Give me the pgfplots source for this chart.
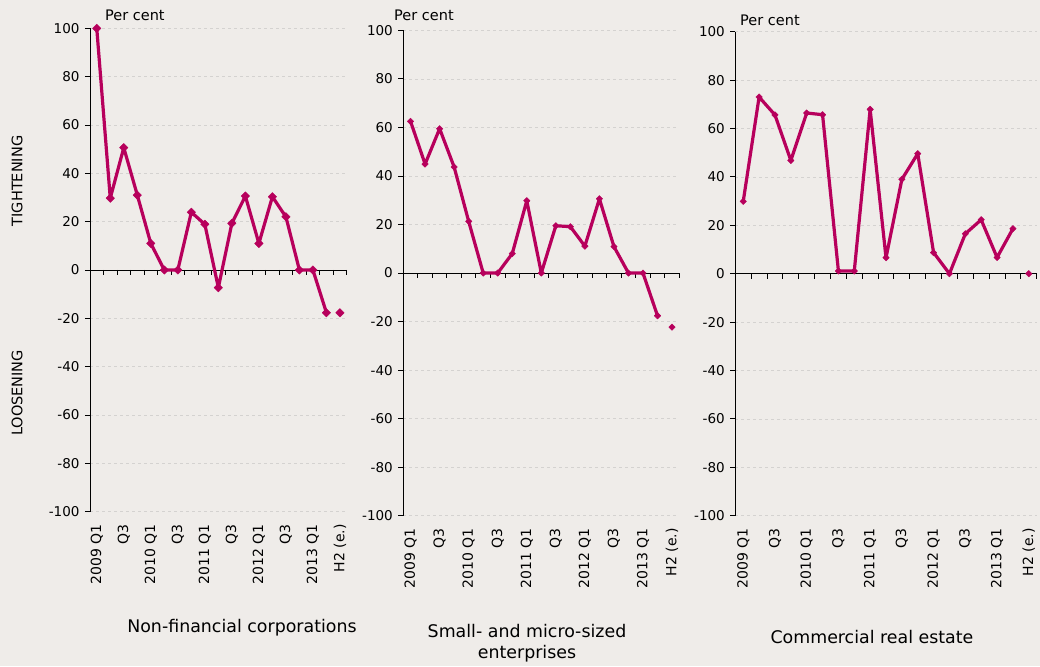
\documentclass[border=0pt]{standalone}
\usepackage{pgfplots}
\pgfplotsset{compat=1.18}
\usepackage{fontspec}
\setmainfont{DejaVu Sans}
\definecolor{bg}{RGB}{239,236,233}
\definecolor{serie}{RGB}{183,0,92}
\definecolor{gridc}{RGB}{212,210,208}
\pgfplotsset{
  panel/.style={
    scale only axis, anchor=south west,
    xmin=-0.5, xmax=18.5, ymin=-100, ymax=100,
    axis y line=left, axis x line=bottom,
    x axis line style={draw=none},
    y axis line style={-, black, line width=0.9pt},
    ytick={-100,-80,...,100},
    ytick style={black, line width=0.9pt},
    tick align=outside, major tick length=5pt,
    ymajorgrids, grid style={dashed, gridc, line width=0.7pt},
    xtick={0,2,...,18},
    xticklabels={2009 Q1,Q3,2010 Q1,Q3,2011 Q1,Q3,2012 Q1,Q3,2013 Q1,H2 (e.)},
    xtick style={draw=none},
    xticklabel shift={4pt},
    xticklabel style={rotate=90, anchor=east, font=\fontsize{14}{16}\selectfont},
    yticklabel style={font=\fontsize{13.5}{15}\selectfont, xshift=-2pt},
    /pgf/number format/assume math mode=true,
    unbounded coords=jump,
    clip=false,
  },
  ser/.style={serie, line width=3.2pt, line join=round, mark=square*, mark options={solid, rotate=45, fill=serie, draw=serie, line width=0.4pt}},
}
\newcommand{\zeroline}{%
  \draw[black, line width=0.9pt] (axis cs:-0.5,0) -- (axis cs:18.5,0);
  \pgfplotsinvokeforeach{0.5,1.5,...,18.5}{\draw[black, line width=0.9pt] (axis cs:##1,0) -- ++(0pt,-5pt);}
}
\begin{document}
\begin{tikzpicture}
\fill[bg] (0,0) rectangle (1040pt,666pt);
% Panel 1
\begin{axis}[panel, at={(90pt,154.3pt)}, width=256.7pt, height=483.4pt]
\zeroline
\addplot[ser, mark size=3pt] coordinates {
(0,100) (1,29.7) (2,50.6) (3,31) (4,11) (5,0) (6,0) (7,23.9) (8,18.9) (9,-7.3)
(10,19.3) (11,30.6) (12,11) (13,30.3) (14,22) (15,0) (16,0) (17,-17.7) (17.5,nan) (18,-17.7)};
\end{axis}
% Panel 2
\begin{axis}[panel, at={(403.3pt,150.3pt)}, width=276pt, height=485.3pt]
\zeroline
\addplot[ser, mark size=2.3pt] coordinates {
(0,62.5) (1,44.9) (2,59.5) (3,43.7) (4,21.3) (5,0) (6,0) (7,8) (8,29.8) (9,0)
(10,19.5) (11,19.1) (12,11.1) (13,30.6) (14,10.9) (15,0) (16,0) (17,-17.6) (17.5,nan) (18,-22.3)};
\end{axis}
% Panel 3
\begin{axis}[panel, at={(735.3pt,150.3pt)}, width=301.4pt, height=484pt]
\zeroline
\addplot[ser, mark size=2.3pt] coordinates {
(0,29.9) (1,73) (2,65.6) (3,46.8) (4,66.4) (5,65.7) (6,1.1) (7,1.1) (8,67.9) (9,6.6)
(10,39) (11,49.6) (12,8.7) (13,0) (14,16.5) (15,22.3) (16,6.7) (17,18.6) (17.5,nan) (18,0)};
\end{axis}
\begin{scope}[font=\fontsize{14.5}{17}\selectfont]
\node[anchor=west, inner sep=0pt] at (105pt,651pt) {Per cent};
\node[anchor=west, inner sep=0pt] at (394pt,651pt) {Per cent};
\node[anchor=west, inner sep=0pt] at (740pt,646pt) {Per cent};
\node[rotate=90] at (17pt,485pt) {TIGHTENING};
\node[rotate=90] at (17pt,273pt) {LOOSENING};
\end{scope}
\begin{scope}[font=\fontsize{17.4}{21}\selectfont]
\node at (242pt,38pt) {Non-financial corporations};
\node[align=center] at (527pt,23pt) {Small- and micro-sized\\enterprises};
\node at (872pt,29pt) {Commercial real estate};
\end{scope}
\pgfresetboundingbox
\useasboundingbox (0,0) rectangle (1040pt,666pt);
\end{tikzpicture}
\end{document}
